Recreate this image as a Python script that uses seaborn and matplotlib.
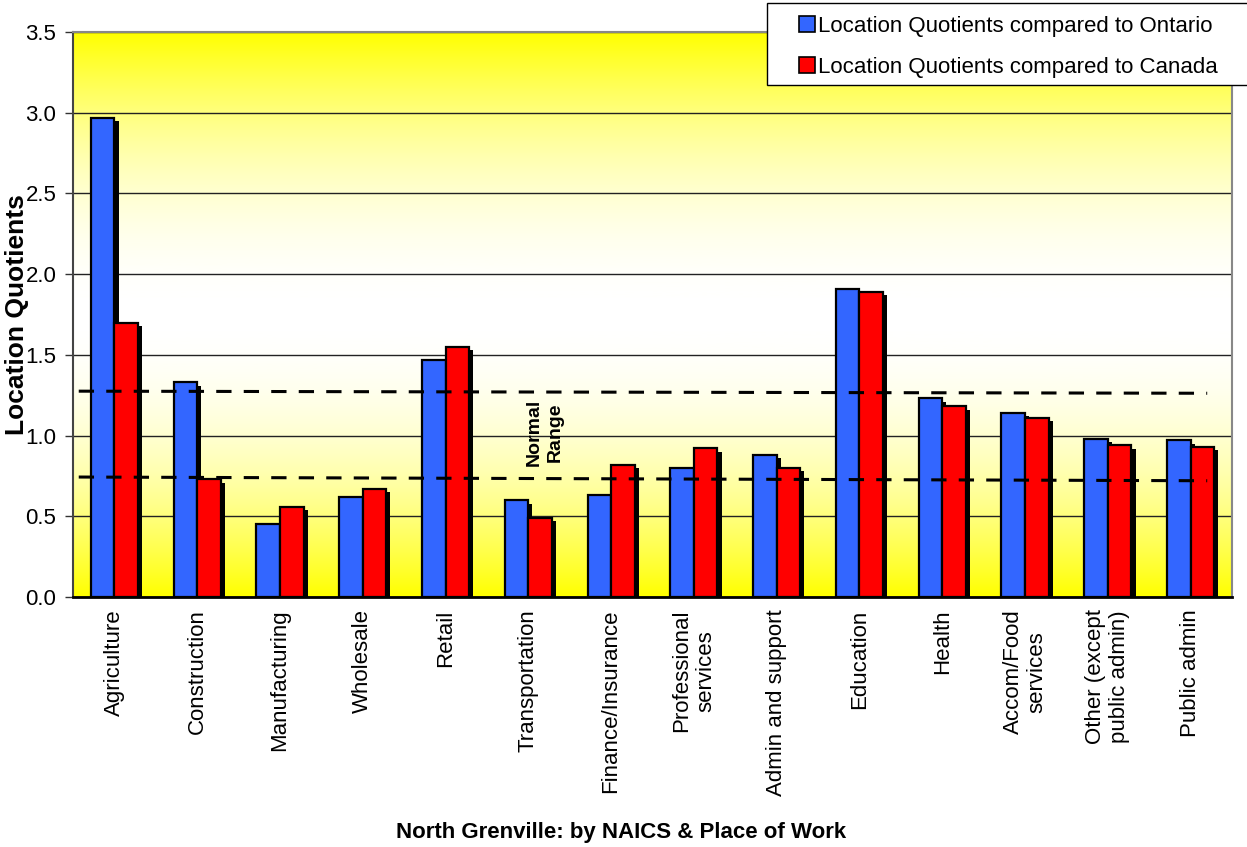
import numpy as np
import pandas as pd
import matplotlib
matplotlib.use("Agg")
import matplotlib.pyplot as plt
import matplotlib.patheffects as pe
from matplotlib.patches import Patch, Rectangle
from matplotlib.colors import LinearSegmentedColormap
import seaborn as sns

# Industries (NAICS groups)
industries = [
    "Agriculture", "Construction", "Manufacturing", "Wholesale", "Retail",
    "Transportation", "Finance/Insurance", "Professional\nservices",
    "Admin and support", "Education", "Health", "Accom/Food\nservices",
    "Other (except\npublic admin)", "Public admin",
]

# Location quotients
lq_ontario = [2.97, 1.33, 0.45, 0.62, 1.47, 0.60, 0.63, 0.80, 0.88, 1.91, 1.23, 1.14, 0.98, 0.97]
lq_canada = [1.70, 0.73, 0.56, 0.67, 1.55, 0.49, 0.82, 0.92, 0.80, 1.89, 1.18, 1.11, 0.94, 0.93]

series_names = ["Location Quotients compared to Ontario",
                "Location Quotients compared to Canada"]

# "Normal range" band (slightly sloped hand-drawn lines)
normal_upper = [1.275, 1.262]
normal_lower = [0.743, 0.720]
yticks = [0.0, 0.5, 1.0, 1.5, 2.0, 2.5, 3.0, 3.5]

df = pd.DataFrame({
    "Industry": industries * 2,
    "LQ": lq_ontario + lq_canada,
    "Series": [series_names[0]] * len(industries) + [series_names[1]] * len(industries),
})

sns.set_theme(style="white")
plt.rcParams["font.family"] = ["Liberation Sans", "DejaVu Sans"]
plt.rcParams.update({"text.color": "black", "axes.labelcolor": "black",
                     "xtick.color": "black", "ytick.color": "black"})

fig = plt.figure(figsize=(12.47, 8.47), dpi=100)
ax = fig.add_axes([0.0585, 0.2952, 0.9295, 0.667])

# yellow-white-yellow background gradient
t = np.linspace(-1, 1, 300)
grad = (np.abs(t) ** 2)[:, None]
cmap = LinearSegmentedColormap.from_list("yw", ["#FFFFFF", "#FFFF00"])
ax.imshow(grad, cmap=cmap, vmin=0, vmax=1, aspect="auto",
          extent=[-0.5, len(industries) - 0.5, 0, 3.5], zorder=0, origin="lower")

palette = {series_names[0]: "#3366FF", series_names[1]: "#FF0000"}
sns.barplot(data=df, x="Industry", y="LQ", hue="Series", palette=palette,
            width=0.57, gap=0, edgecolor="black", linewidth=1.6,
            saturation=1, legend=False, ax=ax, zorder=2)

shadow = [pe.SimplePatchShadow(offset=(3, -2.5), shadow_rgbFace="black", alpha=1.0), pe.Normal()]
for bar in ax.patches:
    bar.set_path_effects(shadow)

# normal range dashed lines
x0, x1 = -0.43, 13.2
ax.plot([x0, x1], normal_upper, ls=(0, (5, 4)), color="black", lw=2.2, zorder=4)
ax.plot([x0, x1], normal_lower, ls=(0, (5, 4)), color="black", lw=2.2, zorder=4)
ax.text(5.2, 1.02, "Normal\nRange", rotation=90, ha="center", va="center",
        fontsize=14, fontweight="bold", zorder=5, linespacing=1.3)

ax.set_xlim(-0.5, len(industries) - 0.5)
ax.set_ylim(0, 3.5)
ax.set_yticks(yticks)
ax.set_yticklabels([f"{v:.1f}" for v in yticks], fontsize=16)
ax.yaxis.grid(True, color="#222222", lw=1.0)
for gl in ax.get_ygridlines():
    gl.set_zorder(1)

ax.set_xticks(range(len(industries)))
ax.set_xticklabels(industries, rotation=90, fontsize=16, ha="center", va="top",
                   multialignment="center")
ax.set_xticks(np.arange(-0.5, len(industries)), minor=True)
ax.tick_params(axis="x", which="major", length=0, pad=9)
ax.tick_params(axis="x", which="minor", length=6, width=1, color="#333333", direction="out")
ax.tick_params(axis="y", length=6, width=1, color="#333333", direction="out", left=True, pad=6)

for side in ["top", "right"]:
    ax.spines[side].set_color("#888888")
    ax.spines[side].set_linewidth(1.5)
ax.spines["left"].set_color("#444444")
ax.spines["left"].set_linewidth(1.5)
ax.spines["bottom"].set_color("black")
ax.spines["bottom"].set_linewidth(2)

ax.set_xlabel("")
ax.set_ylabel("Location Quotients", fontsize=19, fontweight="bold", va="center")
ax.yaxis.set_label_coords(-0.0485, 0.5)
fig.text(621 / 1247, 1 - 832 / 847, "North Grenville: by NAICS & Place of Work",
         ha="center", va="center", fontsize=16, fontweight="bold")

# legend box partly outside the plot area, like the original
fig.patches.append(Rectangle((767 / 1247, 1 - 85 / 847), 485 / 1247, 82 / 847,
                             transform=fig.transFigure, facecolor="white",
                             edgecolor="black", lw=1.0, zorder=3))
handles = [Patch(facecolor=palette[s], edgecolor="black", lw=1.2) for s in series_names]
leg = fig.legend(handles, series_names, loc="upper left",
                 bbox_to_anchor=(799 / 1247, 1 - 16 / 847), frameon=False,
                 fontsize=16, handlelength=0.7, handleheight=0.7, handletextpad=0.15,
                 labelspacing=0.9, borderpad=0, borderaxespad=0)
leg.set_zorder(4)

fig.savefig("out.png", dpi=100)
